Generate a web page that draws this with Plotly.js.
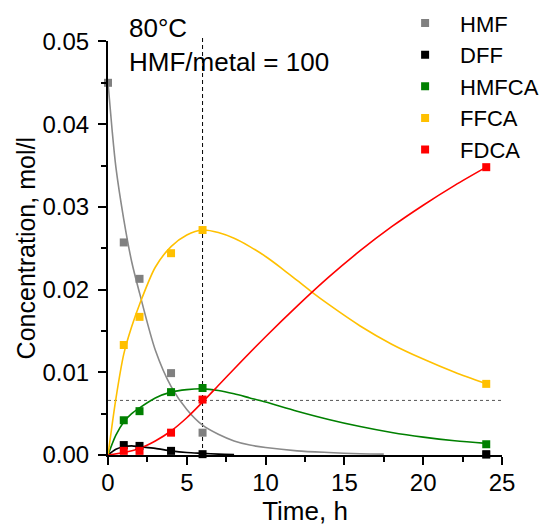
<!DOCTYPE html>
<html>
<head>
<meta charset="utf-8">
<script src="https://cdn.plot.ly/plotly-3.0.1.min.js"></script>
<style>html,body{margin:0;padding:0;background:#fff;}#chart{width:550px;height:526px;}</style>
</head>
<body>
<div id="chart"></div>
<script>
// Measured data points (time in h, concentration in mol/l)
const timePts = [0, 1, 2, 4, 6, 24];
const timePtsNoZero = [1, 2, 4, 6, 24];
const hmfPts = [0.0450, 0.0257, 0.0213, 0.0099, 0.0027, 0.0000];
const dffPts = [0.0012, 0.0011, 0.0005, 0.0001, 0.0001];
const hmfcaPts = [0.0042, 0.0053, 0.0076, 0.0081, 0.0013];
const ffcaPts = [0.0133, 0.0167, 0.0244, 0.0272, 0.0086];
const fdcaPts = [0.0005, 0.0005, 0.0027, 0.0067, 0.0348];

// Model curves
const hmfFitT = [0, 0.25, 0.5, 1, 1.5, 2, 3, 4, 5, 6, 7, 8, 9, 10, 12, 14, 16, 17.5];
const hmfFit = [0.045, 0.0395, 0.0348, 0.0285, 0.0234, 0.0196, 0.0127, 0.0083, 0.0055, 0.0036, 0.0025, 0.0017, 0.0012, 0.0009, 0.0005, 0.0003, 0.00015, 0.0001];
const dffFitT = [0, 0.5, 1, 1.5, 2, 3, 4, 5, 6, 7, 8];
const dffFit = [0, 0.0007, 0.0010, 0.0011, 0.0010, 0.0008, 0.0005, 0.0003, 0.0002, 0.0001, 0.00005];
const hmfcaFitT = [0, 0.5, 1, 1.5, 2, 3, 4, 5, 6, 7, 8, 9, 10, 12, 14, 16, 18, 20, 22, 24];
const hmfcaFit = [0, 0.0024, 0.0040, 0.0050, 0.0057, 0.0069, 0.0076, 0.0079, 0.0080, 0.0078, 0.0074, 0.0069, 0.0064, 0.0053, 0.0043, 0.00344, 0.00272, 0.00216, 0.00172, 0.0014];
const ffcaFitT = [0, 0.5, 1, 1.5, 2, 3, 4, 5, 6, 7, 8, 9, 10, 11, 12, 13, 14, 16, 18, 20, 22, 24];
const ffcaFit = [0, 0.0068, 0.0122, 0.0155, 0.0182, 0.0227, 0.0252, 0.0266, 0.0272, 0.0269, 0.0262, 0.0252, 0.0240, 0.0226, 0.0211, 0.0196, 0.0182, 0.0156, 0.0134, 0.0116, 0.0100, 0.0086];
const fdcaFitT = [0, 1, 2, 3, 4, 5, 6, 7, 8, 10, 12, 14, 16, 18, 20, 22, 24];
const fdcaFit = [0, 0.0003, 0.0008, 0.0017, 0.0029, 0.0045, 0.0064, 0.0084, 0.0104, 0.0143, 0.0180, 0.0215, 0.0247, 0.0276, 0.0302, 0.0326, 0.0348];

const seriesNames = ['HMF', 'DFF', 'HMFCA', 'FFCA', 'FDCA'];
const colors = ['#808080', '#000000', '#008000', '#FFC000', '#FF0000'];
const lineColors = ['#8a8a8a', '#000000', '#008000', '#FFC000', '#FF0000'];

const fits = [[hmfFitT, hmfFit], [dffFitT, dffFit], [hmfcaFitT, hmfcaFit], [ffcaFitT, ffcaFit], [fdcaFitT, fdcaFit]];
const pts = [[timePts, hmfPts], [timePtsNoZero, dffPts], [timePtsNoZero, hmfcaPts], [timePtsNoZero, ffcaPts], [timePtsNoZero, fdcaPts]];

const FONT = 'Liberation Sans, Arial, sans-serif';
const traces = [];
fits.forEach((f, i) => {
  traces.push({
    x: f[0], y: f[1], type: 'scatter', mode: 'lines',
    line: {color: lineColors[i], width: 1.6, shape: 'spline', smoothing: 0.8},
    showlegend: false, hoverinfo: 'skip', cliponaxis: true
  });
});
pts.forEach((p, i) => {
  traces.push({
    x: p[0], y: p[1], type: 'scatter', mode: 'markers', name: seriesNames[i],
    marker: {symbol: 'square', size: 8, color: colors[i]},
    cliponaxis: false
  });
});

const dashT = 6;
const dashC = 0.0066;
const yTop = 0.9089;

const layout = {
  width: 550, height: 526,
  margin: {l: 107.5, r: 48, t: 0, b: 70.5},
  paper_bgcolor: '#fff', plot_bgcolor: '#fff',
  font: {family: FONT, color: '#000', size: 24},
  showlegend: true,
  legend: {
    x: 0.716, y: 0.995, xanchor: 'left', yanchor: 'top',
    font: {family: FONT, size: 22, color: '#000'},
    itemwidth: 60, tracegroupgap: 0, bgcolor: 'rgba(0,0,0,0)'
  },
  xaxis: {
    range: [0, 25], tickvals: [0, 5, 10, 15, 20, 25], ticktext: ['0', '5', '10', '15', '20', '25'],
    showline: true, linecolor: '#000', linewidth: 2, mirror: false,
    ticks: 'outside', ticklen: 8, tickwidth: 2, tickcolor: '#000', ticklabelstandoff: -3,
    minor: {dtick: 2.5, tick0: 0, ticks: 'outside', ticklen: 5, tickwidth: 2, tickcolor: '#000', showgrid: false},
    showgrid: false, zeroline: false,
    tickfont: {family: FONT, size: 24, color: '#000'},
    title: {text: 'Time, h', font: {family: FONT, size: 26, color: '#000'}, standoff: 3}
  },
  yaxis: {
    domain: [0, yTop],
    range: [0, 0.05], tickvals: [0, 0.01, 0.02, 0.03, 0.04, 0.05], ticktext: ['0.00', '0.01', '0.02', '0.03', '0.04', '0.05'],
    showline: true, linecolor: '#000', linewidth: 2, mirror: false,
    ticks: 'outside', ticklen: 8, tickwidth: 2, tickcolor: '#000', ticklabelstandoff: 4,
    minor: {dtick: 0.005, tick0: 0, ticks: 'outside', ticklen: 5, tickwidth: 2, tickcolor: '#000', showgrid: false},
    showgrid: false, zeroline: false,
    tickfont: {family: FONT, size: 24, color: '#000'},
    title: {text: 'Concentration, mol/l', font: {family: FONT, size: 25, color: '#000'}, standoff: 0}
  },
  shapes: [
    {type: 'line', xref: 'x', yref: 'paper', x0: dashT, x1: dashT, y0: 0, y1: 0.9166,
     line: {color: '#000', width: 1, dash: '4px,3px'}, layer: 'below'},
    {type: 'line', xref: 'x', yref: 'y', x0: 0, x1: 25, y0: dashC, y1: dashC,
     line: {color: '#555', width: 1, dash: '3px,3px'}, layer: 'below'}
  ],
  annotations: [
    {xref: 'paper', yref: 'paper', x: 0.047, y: 0.9385, xanchor: 'left', yanchor: 'middle',
     text: '80°C', showarrow: false, font: {family: FONT, size: 26, color: '#000'}},
    {xref: 'paper', yref: 'paper', x: 0.047, y: 0.8645, xanchor: 'left', yanchor: 'middle',
     text: 'HMF/metal = 100', showarrow: false, font: {family: FONT, size: 26, color: '#000'}}
  ]
};

Plotly.newPlot('chart', traces, layout, {displayModeBar: false, staticPlot: true});
</script>
</body>
</html>
